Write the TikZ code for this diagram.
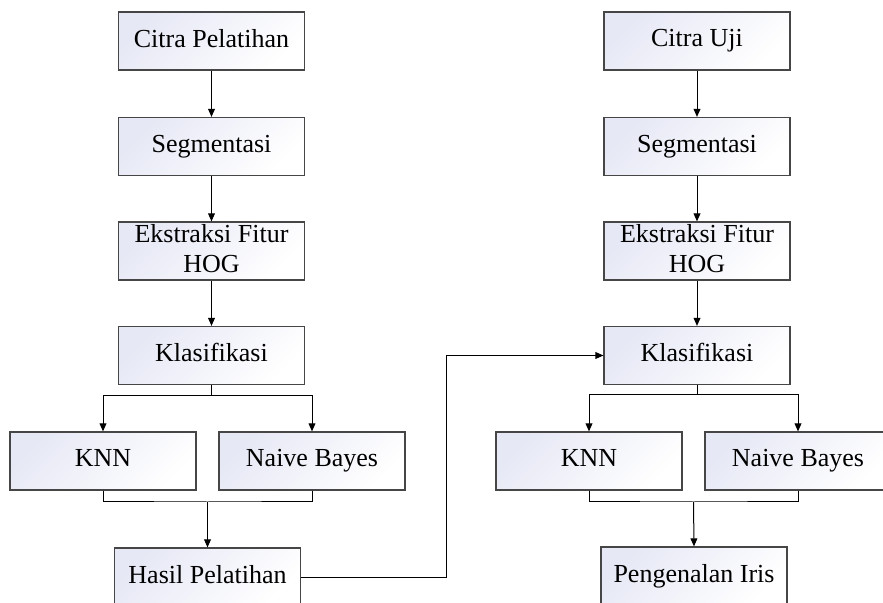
\documentclass[tikz,border=0pt]{standalone}
\usepackage{fontspec}
\setmainfont{Liberation Serif}
\usepackage{tikz}
\usetikzlibrary{arrows.meta}
\usetikzlibrary{positioning}
\definecolor{boxshade}{RGB}{230,232,245}
\definecolor{boxline}{RGB}{70,70,70}
\tikzstyle{procbox} = [draw=boxline, line width=0.6pt, rectangle,
top color=boxshade, bottom color=white, shading angle=45,
minimum width=93pt, minimum height=29pt, inner sep=0.5pt, align=center,
font=\fontsize{13}{15}\selectfont, execute at begin node=\vphantom{Ky}]
\tikzstyle{arr} = [-{Triangle[length=4pt,width=3.4pt]}, line width=0.5pt]

\begin{document}
\begin{tikzpicture}[x=0.5pt, y=-0.5pt]
        \useasboundingbox (0,0) rectangle (883,603);
        % kolom pelatihan
        \node [procbox] (cp1) at (211.5,41) {Citra Pelatihan};
        \node [procbox] (seg1) at (211.5,146.5) {Segmentasi};
        \node [procbox] (ekst1) at (211.5,251) {Ekstraksi Fitur\\HOG};
        \node [procbox] (kls1) at (211.5,355.5) {Klasifikasi};
        \node [procbox] (knn1) at (103,461) {KNN};
        \node [procbox] (nb1) at (312,461) {Naive Bayes};
        \node [procbox] (hasil) at (207.5,577) {Hasil Pelatihan};
        % kolom uji
        \node [procbox] (cu) at (697,41) {Citra Uji};
        \node [procbox] (seg2) at (697,146.5) {Segmentasi};
        \node [procbox] (ekst2) at (697,251) {Ekstraksi Fitur\\HOG};
        \node [procbox] (kls2) at (697,355.5) {Klasifikasi};
        \node [procbox] (knn2) at (589,461) {KNN};
        \node [procbox] (nb2) at (798,461) {Naive Bayes};
        \node [procbox] (kenal) at (694,576) {Pengenalan Iris};
        \coordinate (br1) at (211.5,396);
        \coordinate (mg1) at (207.5,502);
        \coordinate (br2) at (697,395);
        \coordinate (mg2) at (693.5,502);
        \coordinate (fb) at (446,355.5);

        \draw [arr] (cp1) -- (seg1);
        \draw [arr] (seg1) -- (ekst1);
        \draw [arr] (ekst1) -- (kls1);
        \draw [line width=0.5pt] (kls1.south) -- (br1);
        \draw [arr] (br1) -| (knn1.north);
        \draw [arr] (br1) -| (nb1.north);
        \draw [line width=0.5pt] (knn1.south) |- (mg1) -| (nb1.south);
        \draw [arr] (mg1) -- (hasil.north);

        \draw [arr] (cu) -- (seg2);
        \draw [arr] (seg2) -- (ekst2);
        \draw [arr] (ekst2) -- (kls2);
        \draw [line width=0.5pt] (kls2.south) -- (br2);
        \draw [arr] (br2) -| (knn2.north);
        \draw [arr] (br2) -| (nb2.north);
        \draw [line width=0.5pt] (knn2.south) |- (mg2) -| (nb2.south);
        \draw [arr] (mg2) -- (kenal.north);

        \draw [arr] (hasil.east) -| (fb) -- (kls2.west);
    \end{tikzpicture}
\end{document}
